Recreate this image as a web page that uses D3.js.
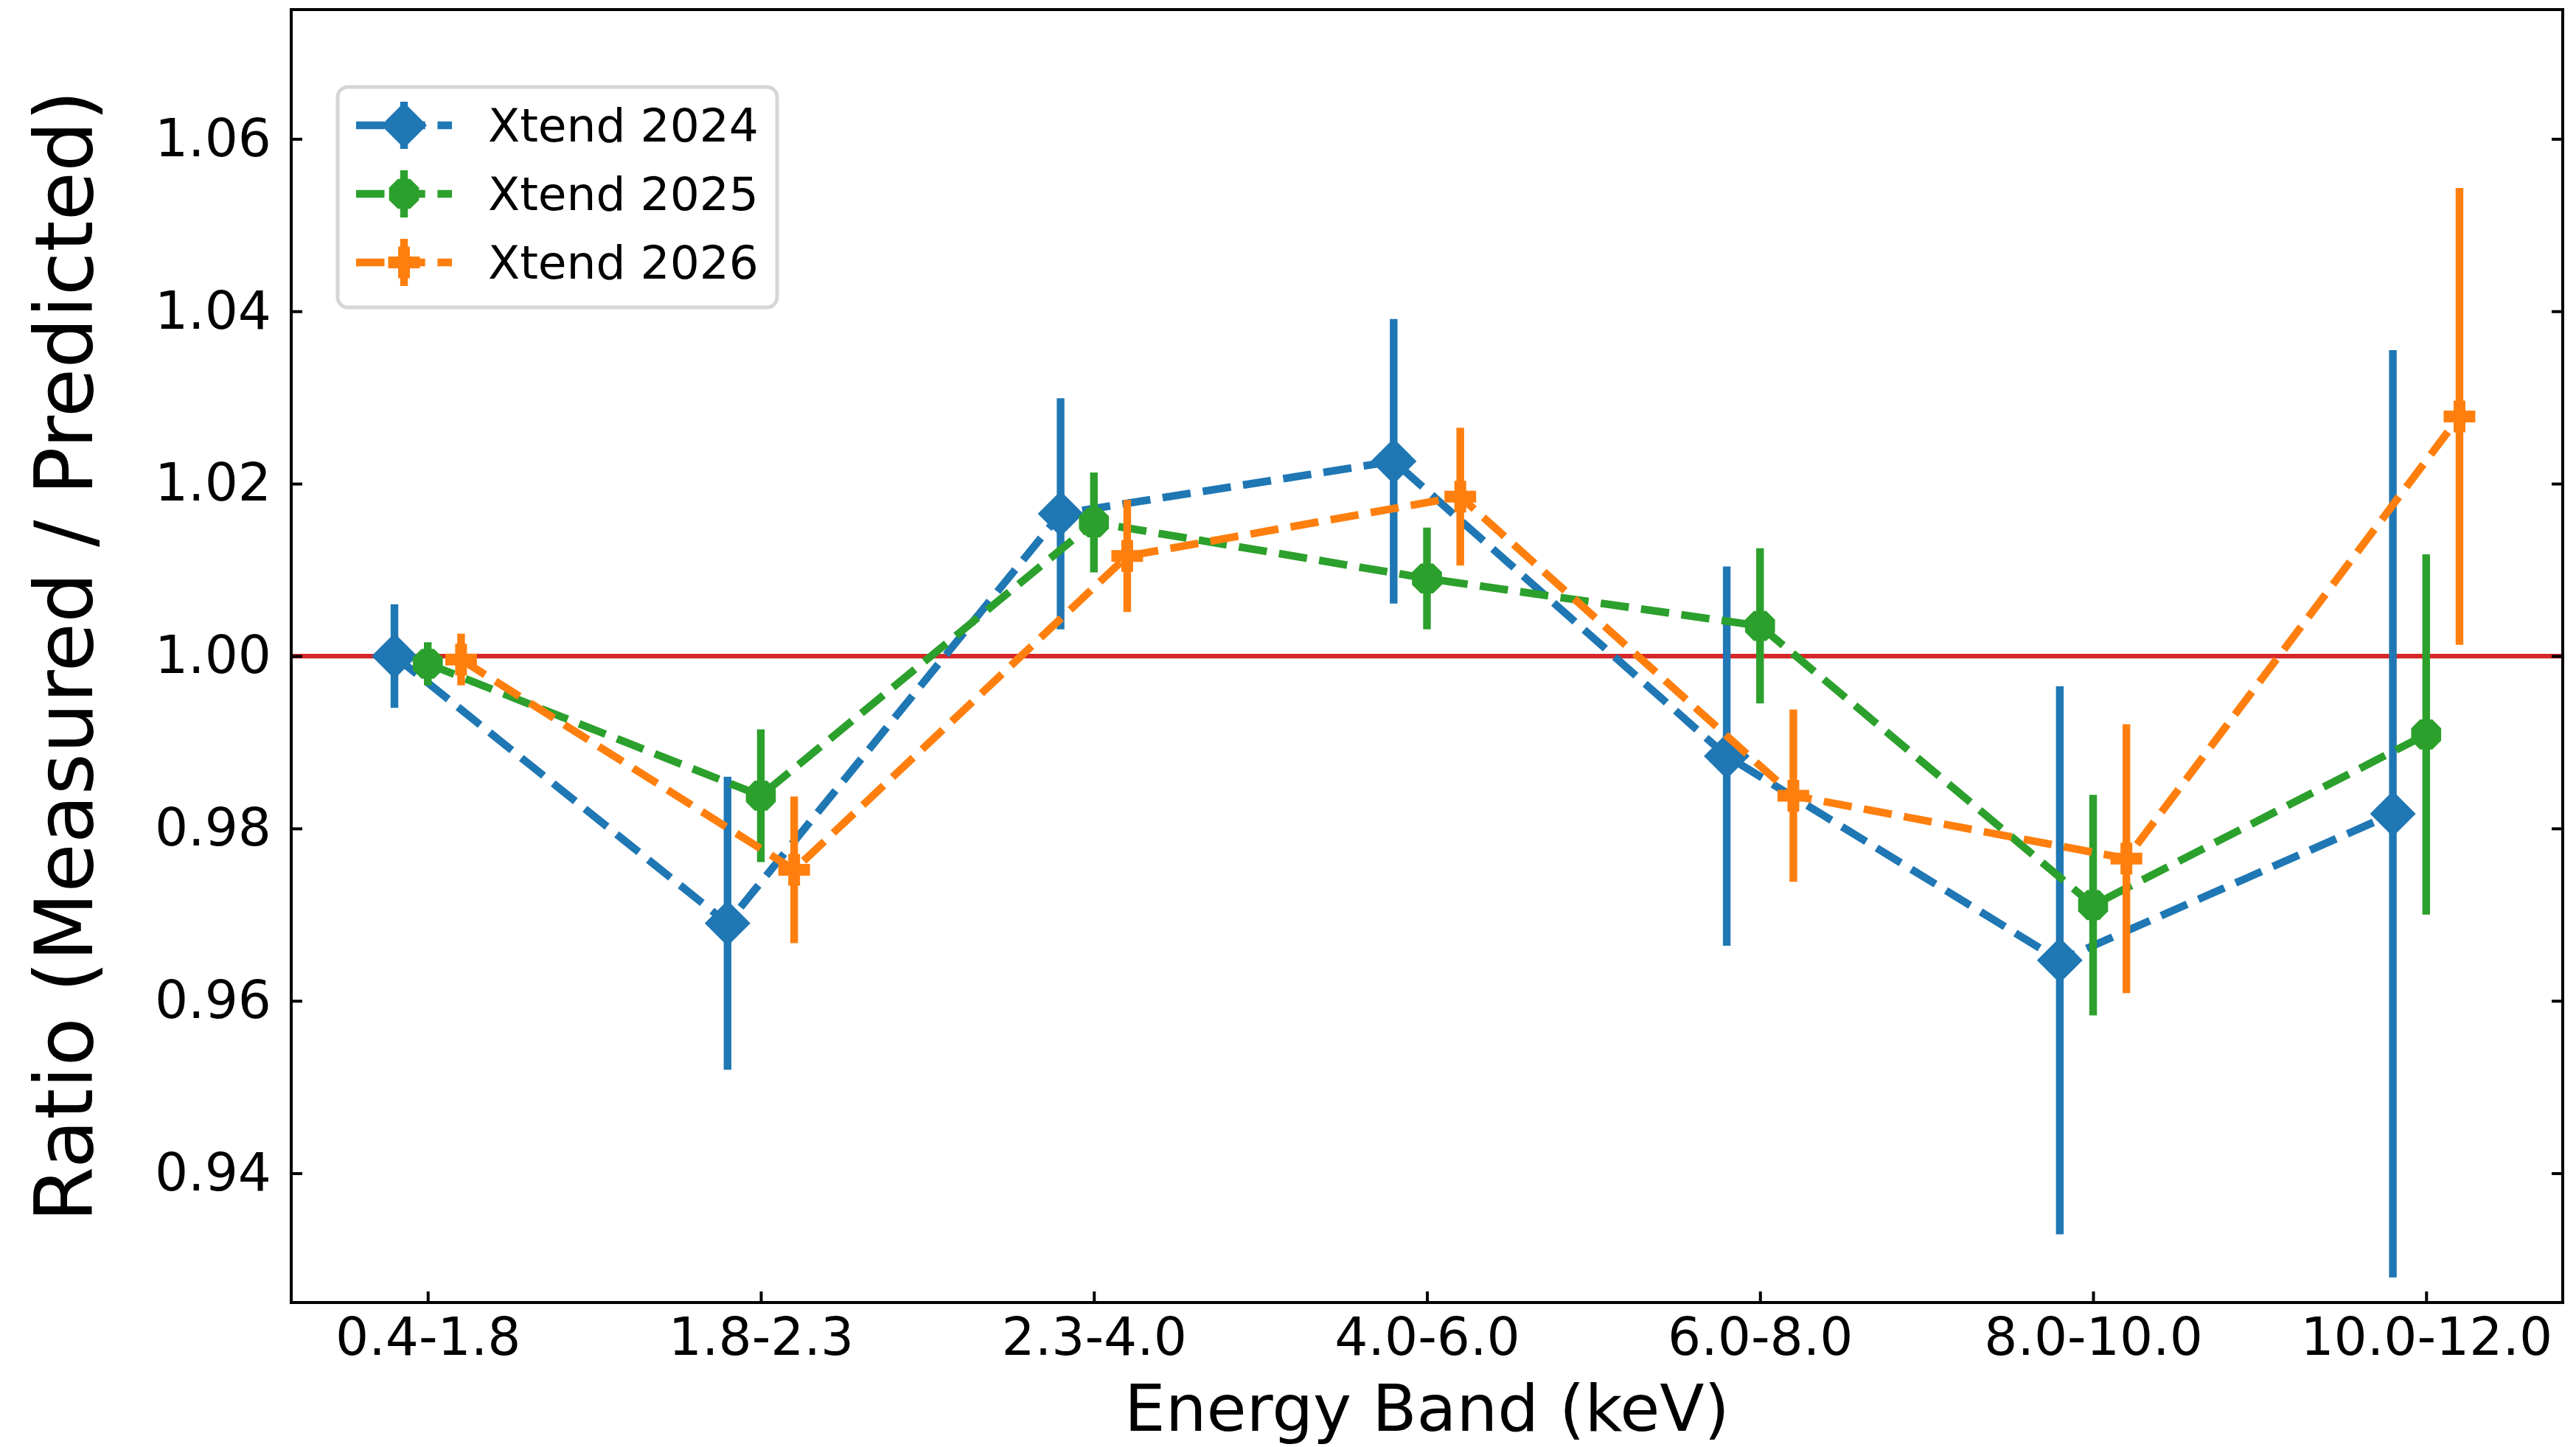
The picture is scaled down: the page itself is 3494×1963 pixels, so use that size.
<!DOCTYPE html>
<html><head><meta charset="utf-8">
<script src="https://cdn.jsdelivr.net/npm/d3@7"></script>
<style>body{margin:0;background:#fff}svg{display:block}text{font-family:"DejaVu Sans",sans-serif}</style>
</head><body>
<script>
const bands = ["0.4-1.8","1.8-2.3","2.3-4.0","4.0-6.0","6.0-8.0","8.0-10.0","10.0-12.0"];
const seriesNames = ["Xtend 2024","Xtend 2025","Xtend 2026"];
const ratio2024 = [1.000, 0.969, 1.0165, 1.0226, 0.9884, 0.9647, 0.9817];
const err2024   = [0.006, 0.017, 0.0134, 0.0165, 0.022, 0.0318, 0.0538];
const ratio2025 = [0.9991, 0.9838, 1.0155, 1.0090, 1.0035, 0.9711, 0.9909];
const err2025   = [0.0025, 0.0077, 0.0058, 0.0059, 0.009, 0.0128, 0.0209];
const ratio2026 = [0.9996, 0.9752, 1.0116, 1.0185, 0.9838, 0.9765, 1.0278];
const err2026   = [0.003, 0.0085, 0.0065, 0.008, 0.010, 0.0156, 0.0265];
const offsets = [-0.1, 0, 0.1];
const yTicks = [0.94, 0.96, 0.98, 1.00, 1.02, 1.04, 1.06];

const W = 3494, H = 1963;
const L = 395, R = 3476, T = 13, B = 1767;
const colors = ["#1f77b4", "#2ca02c", "#ff7f0e"];
const LW = 10.4, DASH = "38.5,16.7";
const svg = d3.select("body").append("svg").attr("width", W).attr("height", H);

const x = d3.scaleLinear().domain([-0.41, 6.41]).range([L, R]);
const y = d3.scaleLinear().domain([0.925, 1.075]).range([B, T]);

// reference line
svg.append("line").attr("x1", L).attr("x2", R).attr("y1", y(1)).attr("y2", y(1))
  .attr("stroke", "#d62728").attr("stroke-width", 6.25);

function markerPath(k) {
  if (k === 0) { const r = 31; return `M0,${-r}L${r},0L0,${r}L${-r},0Z`; }
  if (k === 1) {
    const r = 22; let p = "";
    for (let i = 0; i < 8; i++) { const a = Math.PI / 8 + i * Math.PI / 4; p += (i ? "L" : "M") + (r * Math.cos(a)).toFixed(2) + "," + (r * Math.sin(a)).toFixed(2); }
    return p + "Z";
  }
  const a = 21.5, w = 8;
  return `M${-w},${-a}H${w}V${-w}H${a}V${w}H${w}V${a}H${-w}V${w}H${-a}V${-w}H${-w}Z`;
}

const all = [[ratio2024, err2024], [ratio2025, err2025], [ratio2026, err2026]];
all.forEach(([vals, errs], k) => {
  const g = svg.append("g");
  const pts = vals.map((v, i) => ({ xi: i + offsets[k], v, e: errs[i] }));
  g.selectAll("line.err").data(pts).join("line").attr("class", "err")
    .attr("x1", d => x(d.xi)).attr("x2", d => x(d.xi))
    .attr("y1", d => y(d.v - d.e)).attr("y2", d => y(d.v + d.e))
    .attr("stroke", colors[k]).attr("stroke-width", LW);
  g.append("path").datum(pts)
    .attr("d", d3.line().x(d => x(d.xi)).y(d => y(d.v)))
    .attr("fill", "none").attr("stroke", colors[k]).attr("stroke-width", LW)
    .attr("stroke-dasharray", DASH);
  g.selectAll("path.mk").data(pts).join("path").attr("class", "mk")
    .attr("transform", d => `translate(${x(d.xi)},${y(d.v)})`)
    .attr("d", markerPath(k)).attr("fill", colors[k]);
});

// frame
svg.append("rect").attr("x", L).attr("y", T).attr("width", R - L).attr("height", B - T)
  .attr("fill", "none").attr("stroke", "#000").attr("stroke-width", 4);

// axes
const tickLen = 15;
const xAxis = d3.axisBottom(x).tickValues(d3.range(bands.length)).tickFormat(i => bands[i])
  .tickSizeInner(-tickLen).tickSizeOuter(0).tickPadding(21);
const gx = svg.append("g").attr("transform", `translate(0,${B})`).call(xAxis);
gx.select(".domain").remove();
gx.selectAll("line").attr("stroke", "#000").attr("stroke-width", 4);
gx.selectAll("text").attr("font-size", 71).attr("fill", "#000");

const yAxis = d3.axisLeft(y).tickValues(yTicks).tickFormat(d3.format(".2f"))
  .tickSizeInner(-tickLen).tickSizeOuter(0).tickPadding(27);
const gy = svg.append("g").attr("transform", `translate(${L},0)`).call(yAxis);
gy.select(".domain").remove();
gy.selectAll("line").attr("stroke", "#000").attr("stroke-width", 4);
gy.selectAll("text").attr("font-size", 71).attr("fill", "#000");

const yAxisR = d3.axisRight(y).tickValues(yTicks).tickFormat("").tickSizeInner(-tickLen).tickSizeOuter(0);
const gyr = svg.append("g").attr("transform", `translate(${R},0)`).call(yAxisR);
gyr.select(".domain").remove();
gyr.selectAll("line").attr("stroke", "#000").attr("stroke-width", 4);

// axis labels
svg.append("text").attr("x", (L + R) / 2).attr("y", 1941).attr("text-anchor", "middle")
  .attr("font-size", 88).text("Energy Band (keV)");
svg.append("text").attr("transform", `translate(125,${(T + B) / 2}) rotate(-90)`)
  .attr("text-anchor", "middle").attr("font-size", 108).text("Ratio (Measured / Predicted)");

// legend
const lg = svg.append("g");
lg.append("rect").attr("x", 458).attr("y", 118).attr("width", 596).attr("height", 299)
  .attr("rx", 14).attr("fill", "#fff").attr("fill-opacity", 0.8)
  .attr("stroke", "#d6d6d6").attr("stroke-width", 5);
const rowsY = [170, 263, 356];
seriesNames.forEach((name, k) => {
  const cy = rowsY[k], cx = 548;
  lg.append("line").attr("x1", 483).attr("x2", 613).attr("y1", cy).attr("y2", cy)
    .attr("stroke", colors[k]).attr("stroke-width", LW).attr("stroke-dasharray", DASH);
  lg.append("line").attr("x1", cx).attr("x2", cx).attr("y1", cy - 32).attr("y2", cy + 32)
    .attr("stroke", colors[k]).attr("stroke-width", LW);
  lg.append("path").attr("transform", `translate(${cx},${cy})`).attr("d", markerPath(k)).attr("fill", colors[k]);
  lg.append("text").attr("x", 662).attr("y", cy).attr("dy", "0.35em").attr("font-size", 63).text(name);
});
</script>
</body></html>
